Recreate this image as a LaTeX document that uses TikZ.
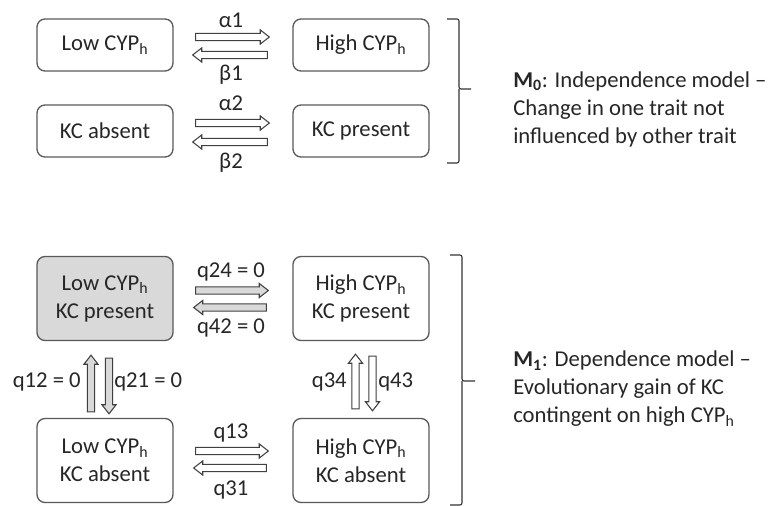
\documentclass[tikz,border=0pt]{standalone}
\usepackage{fontspec}
\setmainfont{Carlito}
\usetikzlibrary{calc}
\definecolor{boxline}{HTML}{595959}
\definecolor{zerofill}{HTML}{D9D9D9}
\definecolor{inkgrey}{HTML}{262626}
\newcommand{\boxw}{102pt}
\newcommand{\smallh}{39pt}
\newcommand{\tallh}{63pt}
\newcommand{\shaftw}{2.7pt}
\newcommand{\headw}{5.3pt}
\newcommand{\headl}{6.8pt}
\newcommand{\cyph}{CYP\textsubscript{h}}
\tikzset{
  statebox/.style={draw=boxline, line width=1pt, rounded corners=6pt,
    minimum width=\boxw, align=center},
  brk/.style={draw=black!80, line width=0.8pt, rounded corners=1.5pt},
  fatarrow/.style={draw=black!75, line width=0.8pt, fill=white, line join=miter,
    to path={
      ($(\tikztostart)!\shaftw!-90:(\tikztotarget)$)
      -- ($(\tikztotarget)!\headl!(\tikztostart)!\shaftw!90:(\tikztostart)$)
      -- ($(\tikztotarget)!\headl!(\tikztostart)!\headw!90:(\tikztostart)$)
      -- (\tikztotarget)
      -- ($(\tikztotarget)!\headl!(\tikztostart)!\headw!-90:(\tikztostart)$)
      -- ($(\tikztotarget)!\headl!(\tikztostart)!\shaftw!-90:(\tikztostart)$)
      -- ($(\tikztostart)!\shaftw!90:(\tikztotarget)$)
      -- cycle}}
}
\begin{document}
\begin{tikzpicture}[x=0.75pt, y=-0.75pt,
    every node/.style={text=inkgrey, font=\fontsize{17}{21}\selectfont}]
    \useasboundingbox (0,0) rectangle (768,506);

    % independence model
    \node[statebox, minimum height=\smallh] (lowcyp) at (105,45) {Low \cyph};
    \node[statebox, minimum height=\smallh] (highcyp) at (361,45) {High \cyph};
    \node[statebox, minimum height=\smallh] (kcabs) at (105,131) {KC absent};
    \node[statebox, minimum height=\smallh] (kcpres) at (361,131) {KC present};

    \draw[fatarrow] ($(lowcyp.east)+(22,-8)$) to ($(highcyp.west)+(-23,-8)$);
    \draw[fatarrow] ($(highcyp.west)+(-25,10)$) to ($(lowcyp.east)+(19,10)$);
    \draw[fatarrow] ($(kcabs.east)+(22,-8)$) to ($(kcpres.west)+(-23,-8)$);
    \draw[fatarrow] ($(kcpres.west)+(-25,11)$) to ($(kcabs.east)+(19,11)$);

    \node (alpha1) at (231,20) {α1};
    \node (beta1) at (231,75) {β1};
    \node (alpha2) at (231,103) {α2};
    \node (beta2) at (231,163) {β2};

    % bracket M0
    \draw[brk] (447,19) -| (459,89) -- (471,89);
    \draw[brk] (447,163) -| (459,89);
    \node[anchor=west, align=left, inner sep=0pt] (mzero) at (513,109)
      {\textbf{M\textsubscript{0}}: Independence model –\\
       Change in one trait not\\
       influenced by other trait};

    % dependence model
    \node[statebox, fill=zerofill, minimum height=\tallh] (lowpres) at (105,298.5)
      {Low \cyph\\KC present};
    \node[statebox, minimum height=\tallh] (highpres) at (361,298.5)
      {High \cyph\\KC present};
    \node[statebox, minimum height=\tallh] (lowabs) at (105,460.5)
      {Low \cyph\\KC absent};
    \node[statebox, minimum height=\tallh] (highabs) at (361,460.5)
      {High \cyph\\KC absent};

    \draw[fatarrow, fill=zerofill] ($(lowpres.east)+(22,-8)$) to ($(highpres.west)+(-24,-8)$);
    \draw[fatarrow, fill=zerofill] ($(highpres.west)+(-26,9)$) to ($(lowpres.east)+(20,9)$);
    \draw[fatarrow] ($(lowabs.east)+(22,-9.5)$) to ($(highabs.west)+(-24,-9.5)$);
    \draw[fatarrow] ($(highabs.west)+(-26,7.5)$) to ($(lowabs.east)+(20,7.5)$);

    \draw[fatarrow, fill=zerofill] ($(lowabs.north)+(-14,-6)$) to ($(lowpres.south)+(-14,14)$);
    \draw[fatarrow, fill=zerofill] ($(lowpres.south)+(4,17)$) to ($(lowabs.north)+(4,-4)$);
    \draw[fatarrow] ($(highabs.north)+(-5.5,-9)$) to ($(highpres.south)+(-5.5,13)$);
    \draw[fatarrow] ($(highpres.south)+(11.5,15)$) to ($(highabs.north)+(11.5,-7)$);

    \node (q24) at (231,272) {q24 = 0};
    \node (q42) at (231,328) {q42 = 0};
    \node (q13) at (231,433) {q13};
    \node (q31) at (231,490) {q31};
    \node[anchor=east, inner sep=0pt] (q12) at (81,382) {q12 = 0};
    \node[anchor=west, inner sep=0pt] (q21) at (114,382) {q21 = 0};
    \node[anchor=east, inner sep=0pt] (q34) at (347,382) {q34};
    \node[anchor=west, inner sep=0pt] (q43) at (378,382) {q43};

    % bracket M1
    \draw[brk] (450,255) -| (462,381) -- (475,381);
    \draw[brk] (450,505) -| (462,381);
    \node[anchor=west, align=left, inner sep=0pt] (mone) at (513,389)
      {\textbf{M\textsubscript{1}}: Dependence model –\\
       Evolutionary gain of KC\\
       contingent on high \cyph};
  \end{tikzpicture}
\end{document}
